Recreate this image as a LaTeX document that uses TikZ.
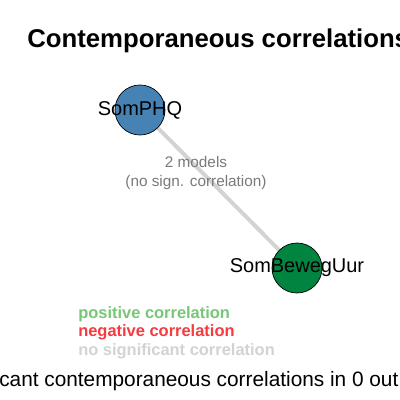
\documentclass[tikz,border=0pt]{standalone}
\usepackage{fontspec}
\setmainfont{Liberation Sans}
\usetikzlibrary{backgrounds}
\definecolor{phqblue}{HTML}{4682B4}
\definecolor{bewgreen}{HTML}{00843F}
\definecolor{posgreen}{HTML}{77C777}
\definecolor{negred}{HTML}{F53B3F}
\definecolor{nonsig}{HTML}{D3D3D3}
\definecolor{edgetext}{HTML}{7A7A7A}

\begin{document}
\begin{tikzpicture}[
    x=0.025cm, y=-0.025cm,
    var/.style={draw=black, line width=0.5pt, circle, minimum size=1.25cm, inner sep=0pt},
    varlabel/.style={font=\fontsize{14.2pt}{16pt}\selectfont, inner sep=0pt},
    legend/.style={anchor=base west, inner sep=0pt, font=\fontsize{11.7pt}{13pt}\selectfont\bfseries},
    corr/.style={draw=nonsig, line width=2.8pt}
]
\useasboundingbox (0,0) rectangle (400,400);
\clip (0,0) rectangle (400,400);

% Title
\node[anchor=base west, inner sep=0pt, font=\fontsize{18.3pt}{20pt}\selectfont\bfseries] (title) at (27,48) {Contemporaneous correlations};

% Nodes
\node[var, fill=phqblue] (phq) at (140,110) {};
\node[varlabel] at (phq) {SomPHQ};
\node[var, fill=bewgreen] (beweg) at (297,268) {};
\node[varlabel] at (beweg) {SomBewegUur};

% Connections
\begin{pgfonlayer}{background}
\fill[white] (0,0) rectangle (400,400);
\path[corr] (phq.center) -- (beweg.center);
\end{pgfonlayer}
\node[align=center, inner sep=0pt, text=edgetext, font=\fontsize{10.9pt}{13.5pt}\selectfont] (models) at (196,173) {2 models\\(no sign. correlation)};

% Legend
\node[legend, text=posgreen] (pos) at (78,318) {positive correlation};
\node[legend, text=negred] (neg) at (78,336.5) {negative correlation};
\node[legend, text=nonsig] (none) at (78,355) {no significant correlation};

% Footer
\node[anchor=base west, inner sep=0pt, font=\fontsize{14.8pt}{16pt}\selectfont] (footer) at (-1,386) {cant contemporaneous correlations in 0 out};
\end{tikzpicture}
\end{document}
